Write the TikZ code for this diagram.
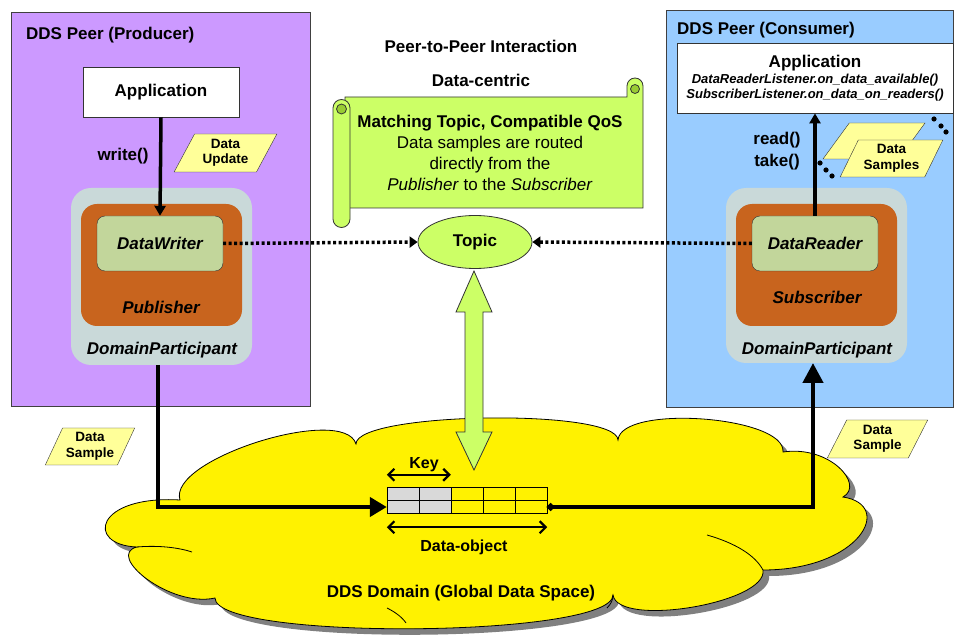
\documentclass[tikz,border=0pt]{standalone}
\usepackage{fontspec}
\setmainfont{Liberation Sans}
\usetikzlibrary{arrows.meta,shapes.geometric}

\definecolor{peerpurple}{HTML}{CC99FF}
\definecolor{peerblue}{HTML}{99CCFF}
\definecolor{scrollgreen}{HTML}{CCFF66}
\definecolor{curlgreen}{HTML}{99CC33}
\definecolor{notebuff}{HTML}{FFFF99}
\definecolor{partgrey}{HTML}{C9D9D9}
\definecolor{pubbrown}{HTML}{C8641E}
\definecolor{rwgreen}{HTML}{C2D69B}
\definecolor{keygrey}{HTML}{D9D9D9}

% outline of the global data space
\newcommand{\ddscloud}{(180,500) .. controls (167,459) and (344,404) .. (356,444)
  .. controls (356,412) and (617,408) .. (618,440)
  .. controls (621,404) and (786,416) .. (783,452)
  .. controls (830,445) and (865,485) .. (843,497)
  .. controls (895,505) and (860,570) .. (763,570)
  .. controls (768,603) and (618,628) .. (613,595)
  .. controls (613,638) and (215,641) .. (215,598)
  .. controls (170,608) and (105,555) .. (137,547)
  .. controls (85,545) and (95,495) .. (180,500) -- cycle}

\begin{document}
\begin{tikzpicture}[x=1pt,y=-1pt]
\tikzstyle{every node}=[inner sep=1pt,font=\bfseries\fontsize{17}{19}\selectfont]
\tikzstyle{peer}=[draw=black!75,line width=0.9pt]
\tikzstyle{appbox}=[draw=black!80,fill=white,line width=0.8pt]
\tikzstyle{participant}=[fill=partgrey,rounded corners=20pt,minimum width=181,minimum height=177]
\tikzstyle{pubsub}=[fill=pubbrown,rounded corners=16pt,minimum width=161,minimum height=122]
\tikzstyle{rw}=[draw=black!80,fill=rwgreen,rounded corners=8pt,minimum width=126,minimum height=55,font=\bfseries\itshape\fontsize{17}{19}\selectfont]
\tikzstyle{note}=[draw=black!80,fill=notebuff,trapezium,trapezium left angle=62,trapezium right angle=118,trapezium stretches=true,align=center,font=\bfseries\fontsize{13.5}{15.5}\selectfont]
\tikzstyle{scroll}=[draw=black!80,fill=scrollgreen,line width=0.8pt]
\tikzstyle{flow}=[line width=4.5pt]
\tikzstyle{link}=[line width=3.5pt,dash pattern=on 3pt off 2.5pt,-{Triangle[length=8pt,width=11pt]}]
\tikzstyle{cell}=[draw=black,line width=0.8pt]
\tikzstyle{span}=[line width=2.2pt,{Straight Barb[length=6pt,width=12pt]}-{Straight Barb[length=6pt,width=12pt]}]
%\tikzstyle{every node}=[draw,inner sep=1pt]
\useasboundingbox (0,0) rectangle (954,636);

% the two peers
\filldraw[peer,fill=peerpurple] (11,12) rectangle (310,406);
\filldraw[peer,fill=peerblue] (666,10) rectangle (953,407);
\node[anchor=west] (prodtitle) at (25,35) {DDS Peer (Producer)};
\node[anchor=west] (constitle) at (676,30) {DDS Peer (Consumer)};

% global data space
\begin{scope}[shift={(6,6)}]
\fill[black!50] \ddscloud;
\end{scope}
\filldraw[draw=black,fill=yellow,line width=0.8pt] \ddscloud;
\draw[line width=0.8pt] (137,547) .. controls (160,545) and (180,548) .. (192,552);
\draw[line width=0.8pt] (707,535) .. controls (735,543) and (755,555) .. (763,570);
\draw[line width=0.8pt] (387,608) .. controls (395,612) and (402,617) .. (406,623);
\draw[line width=0.8pt] (613,595) .. controls (613,600) and (611,604) .. (607,608);

% producer side
\node[appbox,minimum width=156,minimum height=50] (papp) at (161,92) {Application};
\node[participant] (pdp) at (161.5,276.5) {};
\node[pubsub] (ppub) at (161.5,265) {};
\node[rw] (pdw) at (160,243.5) {DataWriter};
\node[font=\bfseries\itshape\fontsize{17}{19}\selectfont] (publbl) at (161,307) {Publisher};
\node[font=\bfseries\itshape\fontsize{17}{19}\selectfont] (pdplbl) at (162,350) {DomainParticipant};
\draw[line width=3.5pt,-{Triangle[length=10pt,width=11pt]}] (papp.south) -- (pdw.north);
\node (write) at (123,156) {write()};
\node[note,minimum width=103,minimum height=38] (upd) at (225.5,153) {Data\\Update};

% consumer side
\node[appbox,minimum width=276,minimum height=70,align=center] (sapp) at (815,78)
  {Application\\[-3pt]{\itshape\fontsize{13}{17}\selectfont DataReaderListener.on\_data\_available()}\\[-4pt]
   {\itshape\fontsize{13}{17}\selectfont SubscriberListener.on\_data\_on\_readers()}};
\node[participant,minimum height=175] (sdp) at (816.5,275.5) {};
\node[pubsub] (ssub) at (816.5,265) {};
\node[rw] (sdr) at (815,243.5) {DataReader};
\node[font=\bfseries\itshape\fontsize{17}{19}\selectfont] (sublbl) at (817,297) {Subscriber};
\node[font=\bfseries\itshape\fontsize{17}{19}\selectfont] (sdplbl) at (817,350) {DomainParticipant};
\draw[line width=3.5pt,-{Triangle[length=10pt,width=11pt]}] (sdr.north) -- (sapp.south);
\node[align=center,font=\bfseries\fontsize{17}{22}\selectfont] (readtake) at (777,151) {read()\\take()};
\node[note,minimum width=102,minimum height=36] (samp2) at (874,141) {};
\node[note,minimum width=103,minimum height=37] (samp1) at (891.5,158.5) {Data\\Samples};
\foreach \p in {(820,163),(826,170),(832,176),(934,119),(941,126),(946,132)}
  \fill \p circle[radius=2.6pt];

% topic in the middle
\node (p2p) at (481,46) {Peer-to-Peer Interaction};
\node (dc) at (481,80) {Data-centric};
\filldraw[scroll] (345,97) -- (627,97) -- (627,86) arc[start angle=180,end angle=0,radius=8pt]
  -- (643,208) -- (345,208) -- cycle;
\filldraw[scroll,fill=curlgreen] (635,89) circle[radius=4.5pt];
\filldraw[scroll] (333,108) arc[start angle=180,end angle=0,radius=8.5pt] -- (350,219)
  arc[start angle=0,end angle=-180,radius=8.5pt] -- cycle;
\filldraw[scroll,fill=curlgreen] (341.5,109) circle[radius=5pt];
\node[align=center,font=\fontsize{17}{21}\selectfont] (qos) at (490,153)
  {\textbf{Matching Topic, Compatible QoS}\\Data samples are routed\\directly from the\\
   \textit{Publisher} to the \textit{Subscriber}};
\node[ellipse,draw=black!80,fill=scrollgreen,line width=0.8pt,minimum width=114,minimum height=53] (topic) at (475,242) {Topic};
\draw[link] (pdw.east) -- (topic.west);
\draw[link] (sdr.west) -- (topic.east);
\filldraw[scroll] (474,271) -- (492,312) -- (483,312) -- (483,432) -- (492,432) -- (474,470)
  -- (456,432) -- (465,432) -- (465,312) -- (456,312) -- cycle;

% data object
\node[minimum width=160,minimum height=26,inner sep=0pt] (obj) at (467,500) {};
\foreach \i in {0,...,4}{
  \ifnum\i<2 \def\cc{keygrey}\else\def\cc{yellow}\fi
  \filldraw[cell,fill=\cc] (387+32*\i,487) rectangle (419+32*\i,500);
  \filldraw[cell,fill=\cc] (387+32*\i,500) rectangle (419+32*\i,513);
}
\draw[span] ([yshift=12pt]obj.north west) -- ([yshift=12pt,xshift=64pt]obj.north west);
\node[font=\bfseries\fontsize{16}{18}\selectfont] (key) at (424,465) {Key};
\draw[span] ([yshift=-14pt]obj.south west) -- ([yshift=-14pt]obj.south east);
\node[font=\bfseries\fontsize{16}{18}\selectfont] (objlbl) at (464,547) {Data-object};
\node[font=\bfseries\fontsize{17}{19}\selectfont] (domlbl) at (461,593) {DDS Domain (Global Data Space)};

% samples through the domain
\draw[flow,-{Triangle[length=17pt,width=19pt]}] (158,365) |- ([yshift=-7pt]obj.west);
\draw[flow,{Circle[length=7pt]}-{Triangle[length=20pt,width=20pt]}] ([yshift=-7pt]obj.east) -| (813,363);
\node[note,minimum width=90,minimum height=37] (lsamp) at (90,446.5) {Data\\Sample};
\node[note,minimum width=101,minimum height=38] (rsamp) at (877.5,439) {Data\\Sample};

\end{tikzpicture}
\end{document}
